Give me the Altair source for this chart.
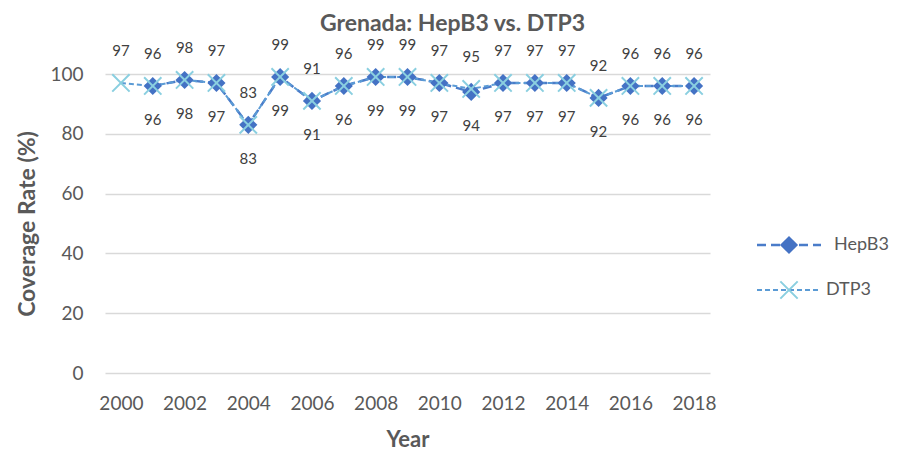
import altair as alt
import pandas as pd

years = list(range(2000, 2019))
hepb3 = [None, 96, 98, 97, 83, 99, 91, 96, 99, 99, 97, 94, 97, 97, 97, 92, 96, 96, 96]
dtp3 = [97, 96, 98, 97, 83, 99, 91, 96, 99, 99, 97, 95, 97, 97, 97, 92, 96, 96, 96]

df = pd.DataFrame({"Year": years, "HepB3": hepb3, "DTP3": dtp3})
hep = df[["Year", "HepB3"]].dropna().rename(columns={"HepB3": "v"})
dtp = df[["Year", "DTP3"]].rename(columns={"DTP3": "v"})

FONT = "Lato"
GREY = "#595959"
HEP_LINE = "#4A7CC9"
HEP_MARK = "#4472C4"
DTP_LINE = "#5B9BD5"
DTP_MARK = "#8ACFE0"
XSHAPE = "M-1,-1L1,1M1,-1L-1,1"

x = alt.X("Year:Q",
          scale=alt.Scale(domain=[1999.5, 2018.5], nice=False, zero=False),
          axis=alt.Axis(values=list(range(2000, 2019, 2)), format="d", grid=False,
                        domain=False, ticks=False, labelFontSize=19, labelColor=GREY,
                        labelFont=FONT, labelPadding=21, title="Year", titleFont=FONT,
                        titleFontSize=22, titleColor=GREY, titlePadding=16))
y = alt.Y("v:Q",
          scale=alt.Scale(domain=[0, 100], nice=False),
          axis=alt.Axis(values=[0, 20, 40, 60, 80, 100], grid=True, gridColor="#D9D9D9",
                        gridWidth=1.3, domain=False, ticks=False, labelFontSize=19,
                        labelColor=GREY, labelFont=FONT, labelPadding=22,
                        title="Coverage Rate (%)", titleFont=FONT, titleFontSize=23,
                        titleColor=GREY, titlePadding=10))

hep_line = alt.Chart(hep).mark_line(color=HEP_LINE, strokeWidth=2.5, strokeDash=[9, 5]).encode(x=x, y=y)
hep_pts = alt.Chart(hep).mark_point(shape="diamond", filled=True, color=HEP_MARK, size=330, opacity=1).encode(x=x, y=y)
hep_lbl = alt.Chart(hep).mark_text(dy=34, fontSize=15, font=FONT, color="#404040").encode(x=x, y=y, text="v:Q")

dtp_line = alt.Chart(dtp).mark_line(color=DTP_LINE, strokeWidth=2, strokeDash=[5, 3]).encode(x=x, y=y)
dtp_pts = alt.Chart(dtp).mark_point(shape=XSHAPE, filled=False, color=DTP_MARK, size=300, strokeWidth=2, opacity=1).encode(x=x, y=y)
dtp_lbl = alt.Chart(dtp).mark_text(dy=-32, fontSize=15, font=FONT, color="#404040").encode(x=x, y=y, text="v:Q")

one = pd.DataFrame({"k": [0]})
leg_hep_line = alt.Chart(one).mark_rule(color=HEP_LINE, strokeWidth=2.5, strokeDash=[9, 5]).encode(
    x=alt.value(652), x2=alt.value(716), y=alt.value(171))
leg_hep_pt = alt.Chart(one).mark_point(shape="diamond", filled=True, color=HEP_MARK, size=330, opacity=1).encode(
    x=alt.value(684), y=alt.value(171))
leg_hep_txt = alt.Chart(one).mark_text(align="left", baseline="middle", fontSize=18, font=FONT, color=GREY).encode(
    x=alt.value(729), y=alt.value(171), text=alt.value("HepB3"))
leg_dtp_line = alt.Chart(one).mark_rule(color=DTP_LINE, strokeWidth=2, strokeDash=[5, 3]).encode(
    x=alt.value(652), x2=alt.value(716), y=alt.value(216))
leg_dtp_pt = alt.Chart(one).mark_point(shape=XSHAPE, filled=False, color=DTP_MARK, size=300, strokeWidth=2, opacity=1).encode(
    x=alt.value(684), y=alt.value(216))
leg_dtp_txt = alt.Chart(one).mark_text(align="left", baseline="middle", fontSize=18, font=FONT, color=GREY).encode(
    x=alt.value(721), y=alt.value(216), text=alt.value("DTP3"))

chart = alt.layer(
    hep_line, dtp_line, hep_pts, dtp_pts, hep_lbl, dtp_lbl,
    leg_hep_line, leg_hep_pt, leg_hep_txt, leg_dtp_line, leg_dtp_pt, leg_dtp_txt
).properties(
    width=605, height=299,
    background="white",
    title=alt.TitleParams("Grenada: HepB3 vs. DTP3", font=FONT, fontSize=23, fontWeight="bold",
                          color=GREY, anchor="middle", dx=45, offset=2),
    autosize=alt.AutoSizeParams(type="none"),
    padding={"left": 97, "top": 66, "right": 183, "bottom": 81},
).configure_view(stroke=None)

chart.save("out.html", embed_options={"renderer": "svg", "actions": False})
